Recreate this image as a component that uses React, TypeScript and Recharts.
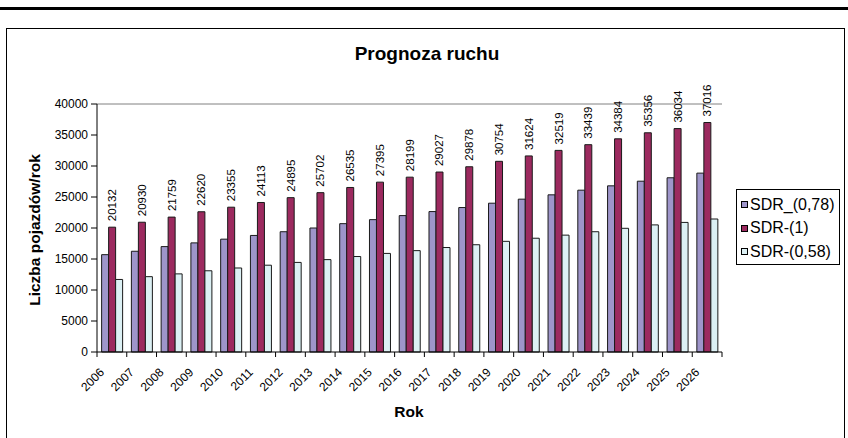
import { BarChart, Bar, XAxis, YAxis, ReferenceLine, LabelList, Legend } from 'recharts';

const years = [
  '2006', '2007', '2008', '2009', '2010', '2011', '2012', '2013', '2014', '2015', '2016',
  '2017', '2018', '2019', '2020', '2021', '2022', '2023', '2024', '2025', '2026',
];

// SDR_(0,78)
const sdr078 = [
  15700, 16250, 17000, 17600, 18200, 18800, 19400, 20000, 20700, 21350, 22000,
  22650, 23300, 24000, 24650, 25350, 26100, 26800, 27550, 28100, 28850,
];

// SDR-(1) - values printed on the bars
const sdr1 = [
  20132, 20930, 21759, 22620, 23355, 24113, 24895, 25702, 26535, 27395, 28199,
  29027, 29878, 30754, 31624, 32519, 33439, 34384, 35356, 36034, 37016,
];

// SDR-(0,58)
const sdr058 = [
  11700, 12150, 12600, 13100, 13550, 14000, 14450, 14900, 15400, 15900, 16350,
  16850, 17300, 17850, 18350, 18850, 19400, 19950, 20500, 20900, 21450,
];

const seriesNames = ['SDR_(0,78)', 'SDR-(1)', 'SDR-(0,58)'];

const yTicks = [0, 5000, 10000, 15000, 20000, 25000, 30000, 35000, 40000];

const data = years.map((rok, i) => ({
  rok,
  sdr078: sdr078[i],
  sdr1: sdr1[i],
  sdr058: sdr058[i],
}));

const FONT = '"Liberation Sans", Arial, sans-serif';
const HALF_BAND = 625 / years.length / 2;

function YearTick({ x, y, payload, index }: any) {
  return (
    <g>
      <line x1={x - HALF_BAND} y1={y} x2={x - HALF_BAND} y2={y + 5} stroke="#000" />
      {index === years.length - 1 && (
        <line x1={x + HALF_BAND} y1={y} x2={x + HALF_BAND} y2={y + 5} stroke="#000" />
      )}
      <text
        transform={`translate(${x - 7},${y + 21}) rotate(-45)`}
        textAnchor="end"
        fontSize={12}
        fontFamily={FONT}
        fill="#000"
      >
        {payload.value}
      </text>
    </g>
  );
}

function ValueLabel({ x, y, width, value }: any) {
  const cx = Number(x) + Number(width) / 2;
  return (
    <text
      transform={`translate(${cx},${Number(y) - 6}) rotate(-90)`}
      dominantBaseline="central"
      fontSize={11.5}
      fontFamily={FONT}
      fill="#000"
    >
      {value}
    </text>
  );
}

function LegendBox({ payload }: any) {
  const items = [...(payload || [])].sort(
    (a: any, b: any) => seriesNames.indexOf(a.value) - seriesNames.indexOf(b.value)
  );
  return (
    <div
      style={{
        border: '1px solid #000',
        boxSizing: 'border-box',
        width: 104,
        height: 76,
        padding: '3px 0 0 4px',
        background: '#fff',
        fontFamily: FONT,
        fontSize: 16,
        color: '#000',
      }}
    >
      {items.map((p: any) => (
        <div key={p.value} style={{ display: 'flex', alignItems: 'center', height: 23.5 }}>
          <span
            style={{
              width: 7,
              height: 7,
              boxSizing: 'border-box',
              border: '1px solid #000',
              background: p.color,
              marginRight: 2,
            }}
          />
          <span style={{ whiteSpace: 'nowrap' }}>{p.value}</span>
        </div>
      ))}
    </div>
  );
}

export default function App() {
  return (
    <div style={{ position: 'relative', width: 848, height: 438, overflow: 'hidden', background: '#fff' }}>
      <style>{'body{margin:0}'}</style>
      <div style={{ position: 'absolute', left: 0, top: 7, width: 848, height: 3, background: '#000' }} />
      <div
        style={{
          position: 'absolute',
          left: 6,
          top: 28,
          width: 839,
          height: 420,
          boxSizing: 'border-box',
          border: '1.5px solid #000',
        }}
      />
      <BarChart
        width={848}
        height={438}
        data={data}
        margin={{ top: 104, right: 126, bottom: 46, left: 37 }}
        barCategoryGap="15.5%"
        barGap={0}
      >
        <XAxis
          dataKey="rok"
          height={40}
          interval={0}
          tickLine={false}
          tickSize={0}
          tickMargin={0}
          axisLine={{ stroke: '#000' }}
          tick={<YearTick />}
        />
        <YAxis
          width={60}
          domain={[0, 40000]}
          ticks={yTicks}
          interval={0}
          tickSize={6}
          tickMargin={3}
          axisLine={{ stroke: '#000' }}
          tickLine={{ stroke: '#000' }}
          tick={{ fontSize: 12, fill: '#000', fontFamily: FONT }}
        />
        <YAxis
          yAxisId="frame"
          orientation="right"
          width={0}
          domain={[0, 40000]}
          tick={false}
          tickLine={false}
          axisLine={{ stroke: '#808080' }}
        />
        <ReferenceLine y={40000} stroke="#808080" />
        <Legend
          layout="vertical"
          align="center"
          verticalAlign="middle"
          wrapperStyle={{ left: 736, top: 189, width: 104, height: 76 }}
          content={<LegendBox />}
        />
        <Bar dataKey="sdr078" name={seriesNames[0]} fill="#9E95CA" stroke="#1a1a1a" strokeWidth={1} isAnimationActive={false} />
        <Bar dataKey="sdr1" name={seriesNames[1]} fill="#9C2A5F" stroke="#1a1a1a" strokeWidth={1} isAnimationActive={false}>
          <LabelList dataKey="sdr1" content={<ValueLabel />} />
        </Bar>
        <Bar dataKey="sdr058" name={seriesNames[2]} fill="#DCF0F4" stroke="#1a1a1a" strokeWidth={1} isAnimationActive={false} />
      </BarChart>
      <div
        style={{
          position: 'absolute',
          left: 0,
          top: 43,
          width: 854,
          textAlign: 'center',
          fontFamily: FONT,
          fontWeight: 'bold',
          fontSize: 19,
          lineHeight: '22px',
        }}
      >
        Prognoza ruchu
      </div>
      <div
        style={{
          position: 'absolute',
          left: 35,
          top: 230,
          transform: 'translate(-50%, -50%) rotate(-90deg)',
          whiteSpace: 'nowrap',
          fontFamily: FONT,
          fontWeight: 'bold',
          fontSize: 15.5,
        }}
      >
        Liczba pojazdów/rok
      </div>
      <div
        style={{
          position: 'absolute',
          left: 409,
          top: 412,
          transform: 'translate(-50%, -50%)',
          whiteSpace: 'nowrap',
          fontFamily: FONT,
          fontWeight: 'bold',
          fontSize: 15.5,
        }}
      >
        Rok
      </div>
    </div>
  );
}
